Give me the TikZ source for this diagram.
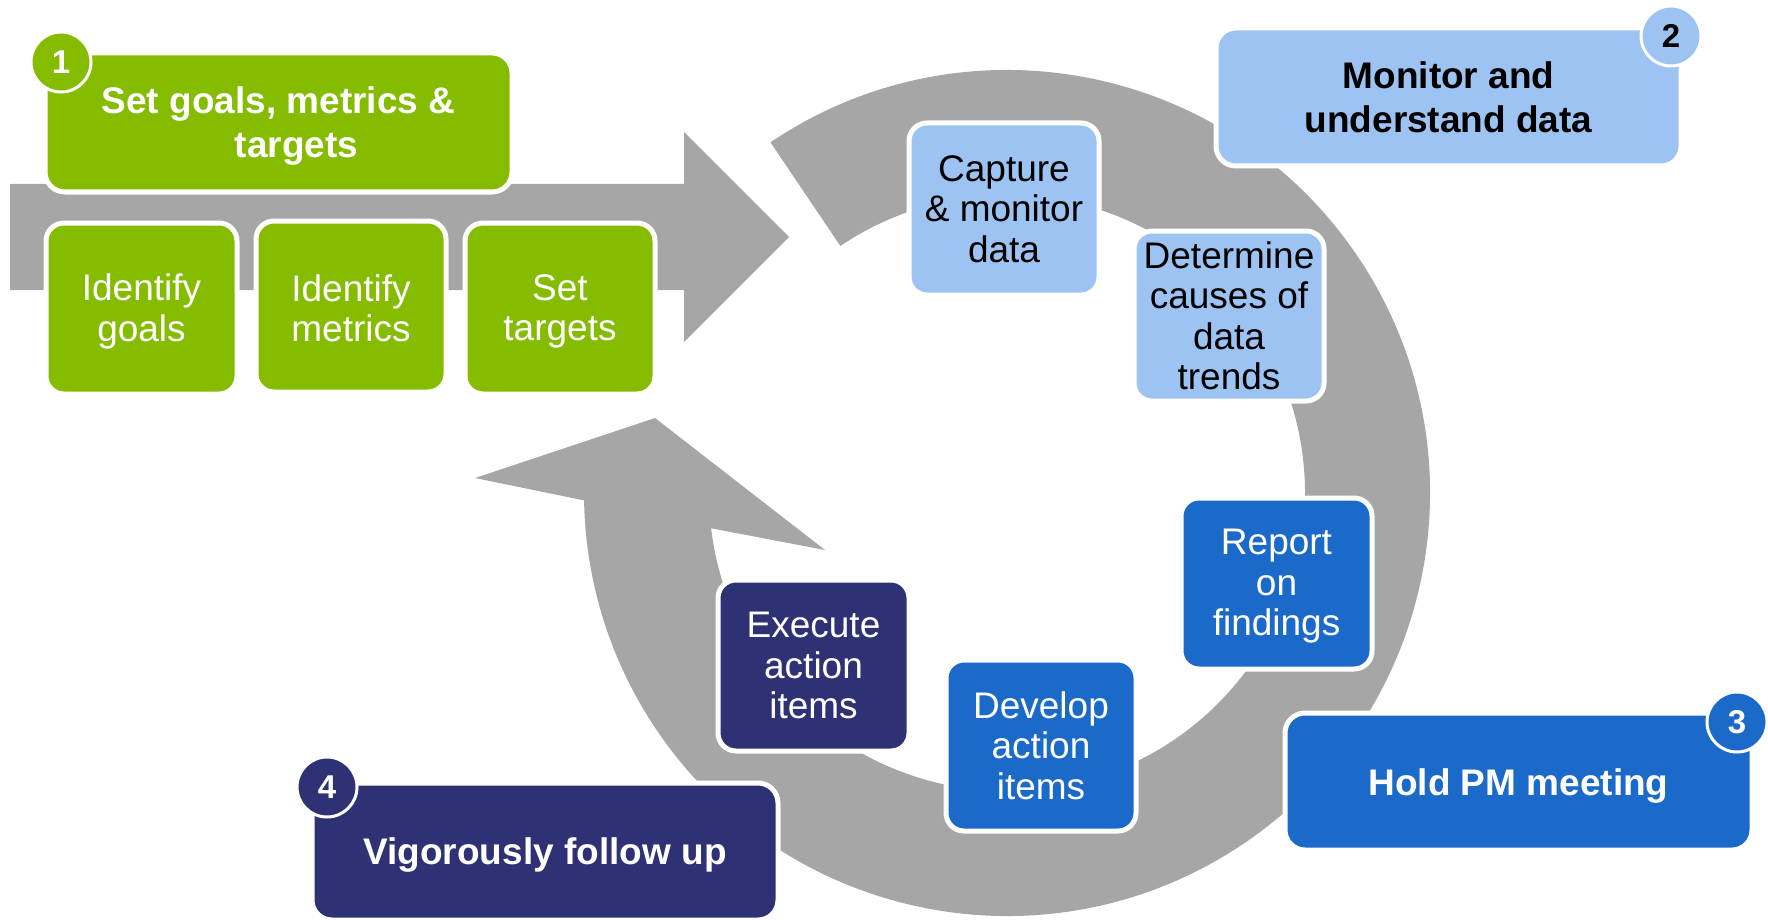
\documentclass[tikz,border=0pt]{standalone}
\usepackage{fontspec}
\setmainfont{Liberation Sans}
\usetikzlibrary{calc}
\definecolor{cgreen}{HTML}{86BC00}
\definecolor{clight}{HTML}{9DC3F2}
\definecolor{cblue}{HTML}{1B6AC9}
\definecolor{cnavy}{HTML}{2E3174}
\definecolor{cgray}{HTML}{A6A6A6}
\begin{document}
\begin{tikzpicture}[x=1pt,y=-1pt,
  box/.style={draw=white, line width=5pt, rounded corners=20pt, align=center, inner sep=0pt},
  smallbox/.style={box, rounded corners=18pt},
  lbl/.style={align=center, inner sep=0pt},
  txt/.style={font=\fontsize{37}{40.5}\selectfont},
  btxt/.style={font=\fontsize{37}{44}\selectfont\bfseries},
  badge/.style={circle, draw=white, line width=3pt, minimum size=60pt, inner sep=0pt, font=\fontsize{33}{33}\selectfont\bfseries}]
\useasboundingbox (0,0) rectangle (1768,920);
\coordinate (C) at (1007,493);
% straight arrow
\fill[cgray] (10,184) -- (684,184) -- (684,132) -- (789,237) -- (684,342) -- (684,290) -- (10,290) -- cycle;
% circular arrow
\fill[cgray] ($(C)+(124:423pt)$) arc[start angle=124, end angle=-179, radius=423pt]
  -- (475,478) -- (655,418) -- (825,550)
  -- ($(C)+(-173.2:298pt)$) arc[start angle=-173.2, end angle=124, radius=298pt] -- cycle;
% step 1
\node[box, fill=cgreen, minimum width=467pt, minimum height=139pt] (title) at (278.5,122.5) {};
\node[lbl, text=white, btxt] (titlet) at ([yshift=-4pt]title.center) {Set goals, metrics \&\\\hspace*{36pt}targets};
\node[smallbox, fill=cgreen, text=white, txt, minimum width=191pt, minimum height=171pt] (goals) at (141.5,308.5) {};
\node[lbl, text=white, txt] (goalst) at ([yshift=-3pt]goals.center) {Identify\\goals};
\node[smallbox, fill=cgreen, text=white, txt, minimum width=190pt, minimum height=171pt] (metrics) at (351,306.5) {};
\node[lbl, text=white, txt] (metricst) at ([yshift=-2pt]metrics.center) {Identify\\metrics};
\node[smallbox, fill=cgreen, text=white, txt, minimum width=190pt, minimum height=171pt] (targets) at (560,308.5) {};
\node[lbl, text=white, txt] (targetst) at ([yshift=-3pt]targets.center) {Set\\targets};
% ring boxes
\node[smallbox, fill=clight, text=black, txt, minimum width=190pt, minimum height=172pt] (capture) at (1004,209) {Capture\\\& monitor\\data};
\node[smallbox, fill=clight, text=black, txt, minimum width=190pt, minimum height=170pt] (determine) at (1229,316) {Determine\\causes of\\data\\trends};
\node[smallbox, fill=cblue, minimum width=191pt, minimum height=171pt] (report) at (1276.5,583.5) {};
\node[lbl, text=white, txt] (reportt) at ([yshift=-3pt]report.center) {Report\\on\\findings};
\node[smallbox, fill=cblue, text=white, txt, minimum width=190pt, minimum height=171pt] (develop) at (1041,745.5) {Develop\\action\\items};
\node[smallbox, fill=cnavy, text=white, txt, minimum width=191pt, minimum height=171pt] (execute) at (813.5,665.5) {Execute\\action\\items};
% phase boxes
\node[box, fill=clight, text=black, btxt, minimum width=465pt, minimum height=138pt] (monitor) at (1448.5,97) {Monitor and\\understand data};
\node[box, fill=cblue, minimum width=467pt, minimum height=137pt] (hold) at (1518.5,781.5) {};
\node[lbl, text=white, btxt] (holdt) at ([yshift=-5pt]hold.center) {Hold PM meeting};
\node[box, fill=cnavy, minimum width=466pt, minimum height=137pt] (vig) at (545,851.5) {};
\node[lbl, text=white, btxt] (vigt) at ([yshift=-4pt]vig.center) {Vigorously follow up};
% badges
\node[badge, fill=cgreen, text=white] (b1) at (61,62) {1};
\node[badge, fill=clight, text=black] (b2) at (1671,36) {2};
\node[badge, fill=cblue, text=white] (b3) at (1737,722) {3};
\node[badge, fill=cnavy, text=white] (b4) at (327,787) {4};
\end{tikzpicture}
\end{document}
